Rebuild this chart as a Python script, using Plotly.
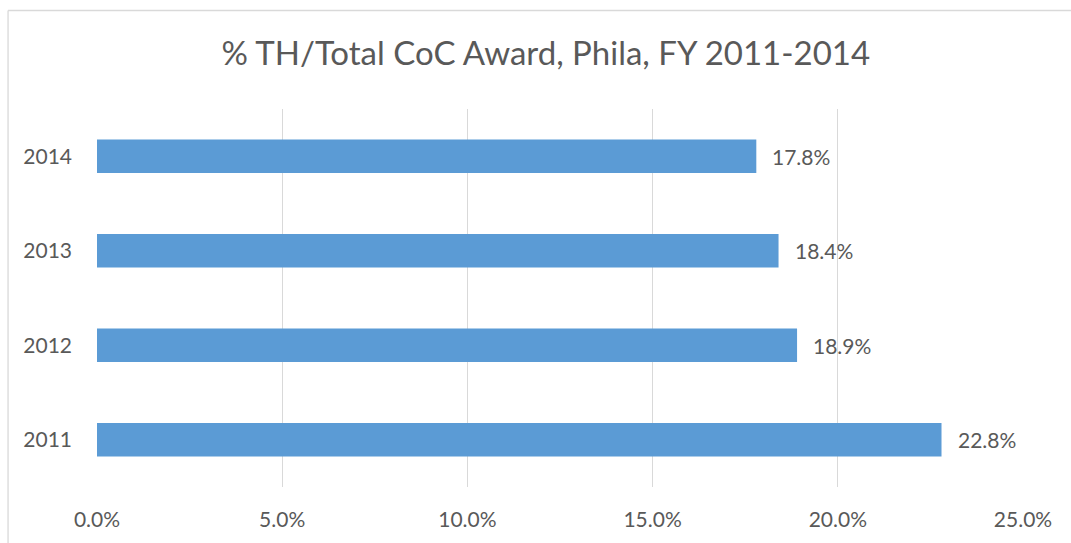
import plotly.graph_objects as go

years = ["2011", "2012", "2013", "2014"]
values = [22.8, 18.9, 18.4, 17.8]
x_ticks = [0, 5, 10, 15, 20, 25]
x_tick_labels = ["0.0%", "5.0%", "10.0%", "15.0%", "20.0%", "25.0%"]
title_text = "% TH/Total CoC Award, Phila, FY 2011-2014"

FONT = "Lato, 'Open Sans', sans-serif"
TXT = "#595959"
GRID = "#D9D9D9"

W, H = 1071, 543
L, R, T, B = 97, 47.5, 109, 54
pw, ph = W - L - R, H - T - B

fig = go.Figure(go.Bar(
    y=years, x=values, orientation="h",
    marker=dict(color="#5B9BD5", line=dict(width=0)),
    width=0.352, hoverinfo="skip",
))

for i, v in enumerate(values):
    fig.add_annotation(x=v, y=i, xref="x", yref="y", text=f"{v:.1f}%", showarrow=False,
                       xanchor="left", xshift=14, yanchor="middle",
                       font=dict(family=FONT, size=21, color=TXT))

# chart border (left and top edges visible in frame)
bx0 = (8 - L) / pw
by1 = (H - B - 10) / ph
fig.add_shape(type="line", xref="paper", yref="paper", x0=bx0, x1=(W + 5 - L) / pw,
              y0=by1, y1=by1, line=dict(color=GRID, width=1.3))
fig.add_shape(type="line", xref="paper", yref="paper", x0=bx0, x1=bx0,
              y0=by1, y1=-(B + 5) / ph, line=dict(color=GRID, width=1.3))

fig.update_layout(
    width=W, height=H,
    margin=dict(l=L, r=R, t=T, b=B),
    paper_bgcolor="white", plot_bgcolor="white",
    title=dict(text=title_text, x=(546 - L) / pw, xref="paper", xanchor="center",
               y=1 - 53 / H, yanchor="middle",
               font=dict(family=FONT, size=33, color=TXT)),
    showlegend=False,
    xaxis=dict(range=[0, 25], tickvals=x_ticks, ticktext=x_tick_labels,
               showgrid=True, gridcolor=GRID, gridwidth=1.3, zeroline=False,
               showline=False, ticks="", ticklabelstandoff=18,
               tickfont=dict(family=FONT, size=21, color=TXT), fixedrange=True),
    yaxis=dict(type="category", categoryorder="array", categoryarray=years,
               range=[-0.5, 3.5],
               showgrid=False, zeroline=False, showline=False, ticks="",
               ticklabelstandoff=24,
               tickfont=dict(family=FONT, size=21, color=TXT), fixedrange=True),
)

fig.write_html("out.html")
